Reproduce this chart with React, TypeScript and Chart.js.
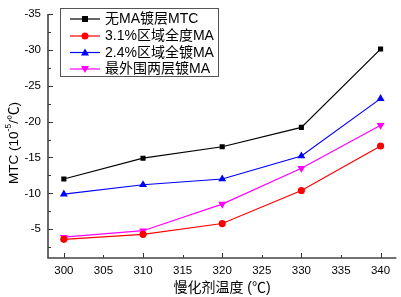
import React, { useEffect, useRef } from "react";
import { Chart, registerables } from "chart.js";

Chart.register(...registerables);

const temperatures = [300, 310, 320, 330, 340];
const seriesNames = ["无MA镀层MTC", "3.1%区域全度MA", "2.4%区域全镀MA", "最外围两层镀MA"];
const noCoating = [-12.0, -14.9, -16.5, -19.2, -30.1];
const region31 = [-3.6, -4.3, -5.8, -10.4, -16.6];
const region24 = [-9.9, -11.2, -12.0, -15.2, -23.2];
const outerTwo = [-3.9, -4.8, -8.5, -13.5, -19.5];
const yTicks = [-35, -30, -25, -20, -15, -10, -5];
const xTicks = [300, 305, 310, 315, 320, 325, 330, 335, 340];

const colors = ["#000000", "#ff0000", "#0000ff", "#ff00ff"];
const styles = ["rect", "circle", "triangle", "triangle"];
const rotations = [0, 0, 0, 180];

const FONT = '"Liberation Sans", Arial, "Noto Sans CJK SC", sans-serif';

const decoPlugin = {
  id: "deco",
  beforeDatasetsDraw(chart: any) {
    const ctx = chart.ctx;
    const { left, right, top, bottom } = chart.chartArea;
    const xs = chart.scales.x;
    const ys = chart.scales.y;
    ctx.save();
    ctx.strokeStyle = "#333333";
    ctx.lineWidth = 1;
    for (let i = 0; i < yTicks.length; i++) {
      const v = yTicks[i];
      const py = Math.round(ys.getPixelForValue(v)) + 0.5;
      ctx.beginPath();
      ctx.moveTo(left, py);
      ctx.lineTo(left + 5, py);
      ctx.stroke();
      const mv = v + 2.5;
      if (mv < ys.max) {
        const my = Math.round(ys.getPixelForValue(mv)) + 0.5;
        ctx.beginPath();
        ctx.moveTo(left, my);
        ctx.lineTo(left + 3, my);
        ctx.stroke();
      }
    }
    for (let i = 0; i < xTicks.length; i++) {
      const v = xTicks[i];
      const px = Math.round(xs.getPixelForValue(v)) + 0.5;
      const major = v % 10 === 0;
      ctx.beginPath();
      ctx.moveTo(px, bottom);
      ctx.lineTo(px, bottom - (major ? 5 : 3));
      ctx.stroke();
    }
    ctx.strokeStyle = "#444444";
    ctx.lineWidth = 1.6;
    ctx.beginPath();
    ctx.moveTo(left, top);
    ctx.lineTo(left, bottom);
    ctx.lineTo(right, bottom);
    ctx.stroke();
    ctx.restore();
  },
  afterDraw(chart: any) {
    const ctx = chart.ctx;
    ctx.save();
    const bx = 60.5, by = 8.5, bw = 158, bh = 68;
    ctx.fillStyle = "#ffffff";
    ctx.fillRect(bx, by, bw, bh);
    ctx.strokeStyle = "#555555";
    ctx.lineWidth = 1;
    ctx.strokeRect(bx, by, bw, bh);
    const rowsY = [19, 36, 52.5, 69];
    ctx.font = `14px ${FONT}`;
    ctx.textBaseline = "middle";
    ctx.textAlign = "left";
    for (let i = 0; i < seriesNames.length; i++) {
      const y = rowsY[i];
      ctx.strokeStyle = colors[i];
      ctx.lineWidth = 1.2;
      ctx.beginPath();
      ctx.moveTo(70, y);
      ctx.lineTo(100, y);
      ctx.stroke();
      ctx.fillStyle = colors[i];
      ctx.beginPath();
      if (styles[i] === "rect") {
        ctx.fillRect(82, y - 3, 6, 6);
      } else if (styles[i] === "circle") {
        ctx.arc(85, y, 3.5, 0, Math.PI * 2);
        ctx.fill();
      } else if (rotations[i] === 0) {
        ctx.moveTo(85, y - 4);
        ctx.lineTo(89, y + 3);
        ctx.lineTo(81, y + 3);
        ctx.closePath();
        ctx.fill();
      } else {
        ctx.moveTo(85, y + 4);
        ctx.lineTo(89, y - 3);
        ctx.lineTo(81, y - 3);
        ctx.closePath();
        ctx.fill();
      }
      ctx.fillStyle = "#000000";
      ctx.fillText(seriesNames[i], 105, y + 0.5);
    }
    ctx.font = `14px ${FONT}`;
    ctx.textAlign = "center";
    ctx.fillStyle = "#000000";
    ctx.fillText("慢化剂温度 (℃)", 222, 288);
    ctx.translate(14, 143);
    ctx.rotate(-Math.PI / 2);
    const f1 = `13.5px ${FONT}`;
    const f2 = `8.5px ${FONT}`;
    const p1 = "MTC (10", p2 = "-5", p3 = "/℃)";
    ctx.font = f1;
    const w1 = ctx.measureText(p1).width;
    const w3 = ctx.measureText(p3).width;
    ctx.font = f2;
    const w2 = ctx.measureText(p2).width;
    const total = w1 + w2 + w3;
    const x0 = -total / 2;
    ctx.textAlign = "left";
    ctx.font = f1;
    ctx.fillText(p1, x0, 0);
    ctx.font = f2;
    ctx.fillText(p2, x0 + w1, -5);
    ctx.font = f1;
    ctx.fillText(p3, x0 + w1 + w2, 0);
    ctx.restore();
  },
};

export default function App() {
  const ref = useRef<HTMLCanvasElement | null>(null);
  useEffect(() => {
    if (!ref.current) return;
    const data = [noCoating, region31, region24, outerTwo];
    const chart = new Chart(ref.current, {
      type: "line",
      data: {
        datasets: data.map((vals, i) => ({
          label: seriesNames[i],
          data: temperatures.map((t, j) => ({ x: t, y: vals[j] })),
          borderColor: colors[i],
          backgroundColor: colors[i],
          borderWidth: 1.2,
          pointStyle: styles[i] as any,
          pointRotation: rotations[i],
          pointRadius: styles[i] === "triangle" ? 4.6 : 3.6,
          pointBorderWidth: 0,
          tension: 0,
        })),
      },
      options: {
        responsive: false,
        animation: false,
        events: [],
        layout: { padding: { top: 8, right: 4, left: 0, bottom: 0 } },
        plugins: { legend: { display: false }, tooltip: { enabled: false } },
        scales: {
          x: {
            type: "linear",
            min: 298,
            max: 342,
            grid: { display: false, drawTicks: false },
            border: { display: false },
            afterBuildTicks: (s: any) => {
              s.ticks = xTicks.map((v) => ({ value: v }));
            },
            afterFit: (s: any) => {
              s.height = 39;
            },
            ticks: {
              padding: 6,
              maxRotation: 0,
              autoSkip: false,
              color: "#000000",
              font: { family: FONT, size: 11.5 },
            },
          },
          y: {
            type: "linear",
            reverse: true,
            min: -35,
            max: -1,
            grid: { display: false, drawTicks: false },
            border: { display: false },
            afterBuildTicks: (s: any) => {
              s.ticks = yTicks.map((v) => ({ value: v }));
            },
            afterFit: (s: any) => {
              s.width = 48;
            },
            ticks: {
              padding: 7,
              color: "#000000",
              font: { family: FONT, size: 11.5 },
            },
          },
        },
      },
      plugins: [decoPlugin],
    });
    return () => chart.destroy();
  }, []);
  return (
    <div style={{ position: "absolute", left: 0, top: 0, width: 401, height: 297, background: "#fff" }}>
      <canvas ref={ref} width={401} height={297} />
    </div>
  );
}
